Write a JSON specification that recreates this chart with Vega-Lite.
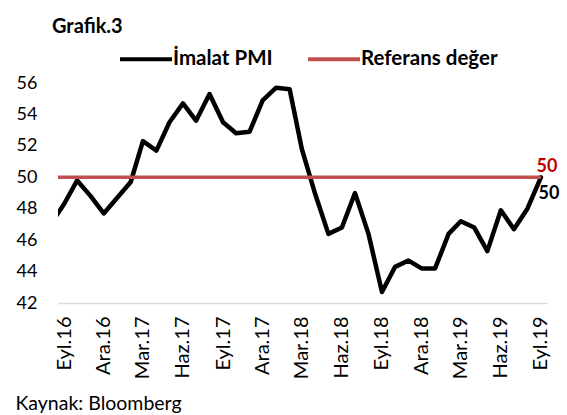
{
  "$schema": "https://vega.github.io/schema/vega-lite/v6.json",
  "width": 489,
  "height": 220,
  "autosize": {"type": "none"},
  "padding": {"left": 58, "top": 83, "right": 20, "bottom": 112},
  "background": "white",
  "title": {"text": "Grafik.3", "anchor": "start", "frame": "group", "dx": -6, "offset": -22, "baseline": "alphabetic", "font": "Lato", "fontSize": 20, "fontWeight": "bold", "color": "black"},
  "config": {"view": {"stroke": null}, "font": "Lato"},
  "data": {"values": [
    {"date": "2016-08-01", "series": "İmalat PMI", "value": 47.0},
    {"date": "2016-09-01", "series": "İmalat PMI", "value": 48.3},
    {"date": "2016-10-01", "series": "İmalat PMI", "value": 49.8},
    {"date": "2016-11-01", "series": "İmalat PMI", "value": 48.8},
    {"date": "2016-12-01", "series": "İmalat PMI", "value": 47.7},
    {"date": "2017-01-01", "series": "İmalat PMI", "value": 48.7},
    {"date": "2017-02-01", "series": "İmalat PMI", "value": 49.7},
    {"date": "2017-03-01", "series": "İmalat PMI", "value": 52.3},
    {"date": "2017-04-01", "series": "İmalat PMI", "value": 51.7},
    {"date": "2017-05-01", "series": "İmalat PMI", "value": 53.5},
    {"date": "2017-06-01", "series": "İmalat PMI", "value": 54.7},
    {"date": "2017-07-01", "series": "İmalat PMI", "value": 53.6},
    {"date": "2017-08-01", "series": "İmalat PMI", "value": 55.3},
    {"date": "2017-09-01", "series": "İmalat PMI", "value": 53.5},
    {"date": "2017-10-01", "series": "İmalat PMI", "value": 52.8},
    {"date": "2017-11-01", "series": "İmalat PMI", "value": 52.9},
    {"date": "2017-12-01", "series": "İmalat PMI", "value": 54.9},
    {"date": "2018-01-01", "series": "İmalat PMI", "value": 55.7},
    {"date": "2018-02-01", "series": "İmalat PMI", "value": 55.6},
    {"date": "2018-03-01", "series": "İmalat PMI", "value": 51.8},
    {"date": "2018-04-01", "series": "İmalat PMI", "value": 48.9},
    {"date": "2018-05-01", "series": "İmalat PMI", "value": 46.4},
    {"date": "2018-06-01", "series": "İmalat PMI", "value": 46.8},
    {"date": "2018-07-01", "series": "İmalat PMI", "value": 49.0},
    {"date": "2018-08-01", "series": "İmalat PMI", "value": 46.4},
    {"date": "2018-09-01", "series": "İmalat PMI", "value": 42.7},
    {"date": "2018-10-01", "series": "İmalat PMI", "value": 44.3},
    {"date": "2018-11-01", "series": "İmalat PMI", "value": 44.7},
    {"date": "2018-12-01", "series": "İmalat PMI", "value": 44.2},
    {"date": "2019-01-01", "series": "İmalat PMI", "value": 44.2},
    {"date": "2019-02-01", "series": "İmalat PMI", "value": 46.4},
    {"date": "2019-03-01", "series": "İmalat PMI", "value": 47.2},
    {"date": "2019-04-01", "series": "İmalat PMI", "value": 46.8},
    {"date": "2019-05-01", "series": "İmalat PMI", "value": 45.3},
    {"date": "2019-06-01", "series": "İmalat PMI", "value": 47.9},
    {"date": "2019-07-01", "series": "İmalat PMI", "value": 46.7},
    {"date": "2019-08-01", "series": "İmalat PMI", "value": 48.0},
    {"date": "2019-09-01", "series": "İmalat PMI", "value": 50.0},
    {"date": "2016-08-01", "series": "Referans değer", "value": 50},
    {"date": "2016-09-01", "series": "Referans değer", "value": 50},
    {"date": "2016-10-01", "series": "Referans değer", "value": 50},
    {"date": "2016-11-01", "series": "Referans değer", "value": 50},
    {"date": "2016-12-01", "series": "Referans değer", "value": 50},
    {"date": "2017-01-01", "series": "Referans değer", "value": 50},
    {"date": "2017-02-01", "series": "Referans değer", "value": 50},
    {"date": "2017-03-01", "series": "Referans değer", "value": 50},
    {"date": "2017-04-01", "series": "Referans değer", "value": 50},
    {"date": "2017-05-01", "series": "Referans değer", "value": 50},
    {"date": "2017-06-01", "series": "Referans değer", "value": 50},
    {"date": "2017-07-01", "series": "Referans değer", "value": 50},
    {"date": "2017-08-01", "series": "Referans değer", "value": 50},
    {"date": "2017-09-01", "series": "Referans değer", "value": 50},
    {"date": "2017-10-01", "series": "Referans değer", "value": 50},
    {"date": "2017-11-01", "series": "Referans değer", "value": 50},
    {"date": "2017-12-01", "series": "Referans değer", "value": 50},
    {"date": "2018-01-01", "series": "Referans değer", "value": 50},
    {"date": "2018-02-01", "series": "Referans değer", "value": 50},
    {"date": "2018-03-01", "series": "Referans değer", "value": 50},
    {"date": "2018-04-01", "series": "Referans değer", "value": 50},
    {"date": "2018-05-01", "series": "Referans değer", "value": 50},
    {"date": "2018-06-01", "series": "Referans değer", "value": 50},
    {"date": "2018-07-01", "series": "Referans değer", "value": 50},
    {"date": "2018-08-01", "series": "Referans değer", "value": 50},
    {"date": "2018-09-01", "series": "Referans değer", "value": 50},
    {"date": "2018-10-01", "series": "Referans değer", "value": 50},
    {"date": "2018-11-01", "series": "Referans değer", "value": 50},
    {"date": "2018-12-01", "series": "Referans değer", "value": 50},
    {"date": "2019-01-01", "series": "Referans değer", "value": 50},
    {"date": "2019-02-01", "series": "Referans değer", "value": 50},
    {"date": "2019-03-01", "series": "Referans değer", "value": 50},
    {"date": "2019-04-01", "series": "Referans değer", "value": 50},
    {"date": "2019-05-01", "series": "Referans değer", "value": 50},
    {"date": "2019-06-01", "series": "Referans değer", "value": 50},
    {"date": "2019-07-01", "series": "Referans değer", "value": 50},
    {"date": "2019-08-01", "series": "Referans değer", "value": 50},
    {"date": "2019-09-01", "series": "Referans değer", "value": 50}
  ]},
  "encoding": {
    "x": {
      "field": "date", "type": "temporal",
      "scale": {"type": "utc", "domain": ["2016-08-18", "2019-09-15"], "nice": false},
      "axis": {
        "values": ["2016-09-01","2016-12-01","2017-03-01","2017-06-01","2017-09-01","2017-12-01","2018-03-01","2018-06-01","2018-09-01","2018-12-01","2019-03-01","2019-06-01","2019-09-01"],
        "labelExpr": "['Oca','Şub','Mar','Nis','May','Haz','Tem','Ağu','Eyl','Eki','Kas','Ara'][utcmonth(datum.value)] + '.' + utcFormat(datum.value, '%y')",
        "labelAngle": -90, "labelFont": "Lato", "labelFontSize": 20, "labelColor": "black", "labelPadding": 13,
        "labelOverlap": false, "labelBound": false, "labelFlush": false,
        "ticks": false, "grid": false, "domainColor": "#d9d9d9", "domainWidth": 1.5,
        "title": "Kaynak: Bloomberg", "titleX": -43, "titleY": 106, "titleAlign": "left", "titleAnchor": null, "titleBaseline": "alphabetic",
        "titleFont": "Lato", "titleFontSize": 19.5, "titleFontWeight": "normal", "titleColor": "black"
      }
    },
    "y": {
      "field": "value", "type": "quantitative",
      "scale": {"domain": [42, 56], "nice": false, "zero": false},
      "axis": {"values": [42,44,46,48,50,52,54,56], "domain": false, "ticks": false, "grid": false, "labelPadding": 21, "labelFont": "Lato", "labelFontSize": 18, "labelColor": "black", "title": null}
    },
    "color": {
      "field": "series", "type": "nominal",
      "scale": {"domain": ["İmalat PMI", "Referans değer"], "range": ["#000000", "#c0504d"]},
      "legend": {"orient": "none", "legendX": 60, "legendY": -52, "direction": "horizontal", "title": null,
        "symbolType": "stroke", "symbolSize": 2704, "symbolStrokeWidth": 4, "labelFont": "Lato", "labelFontSize": 20.5, "labelFontWeight": "bold", "labelColor": "black", "labelOffset": -1, "columnPadding": 27, "padding": 0}
    }
  },
  "layer": [
    {"transform": [{"filter": "datum.series === 'İmalat PMI'"}], "mark": {"type": "line", "clip": true, "strokeWidth": 4.5, "strokeJoin": "round", "strokeCap": "round"}},
    {"transform": [{"filter": "datum.series === 'Referans değer'"}], "mark": {"type": "line", "clip": true, "strokeWidth": 3.5, "strokeCap": "butt"}},
    {"transform": [{"filter": "datum.series === 'Referans değer' && time(datum.date) === utc(2019, 8, 1)"}], "mark": {"type": "text", "dx": 6, "dy": -10, "align": "center", "baseline": "middle", "font": "Lato", "fontSize": 18, "fontWeight": "bold", "color": "#c00000"}, "encoding": {"text": {"field": "value", "format": ".0f"}, "color": {"value": "#c00000"}}},
    {"transform": [{"filter": "datum.series === 'İmalat PMI' && time(datum.date) === utc(2019, 8, 1)"}], "mark": {"type": "text", "dx": 8, "dy": 17, "align": "center", "baseline": "middle", "font": "Lato", "fontSize": 18, "fontWeight": "bold", "color": "black"}, "encoding": {"text": {"field": "value", "format": ".0f"}, "color": {"value": "black"}}}
  ]
}
